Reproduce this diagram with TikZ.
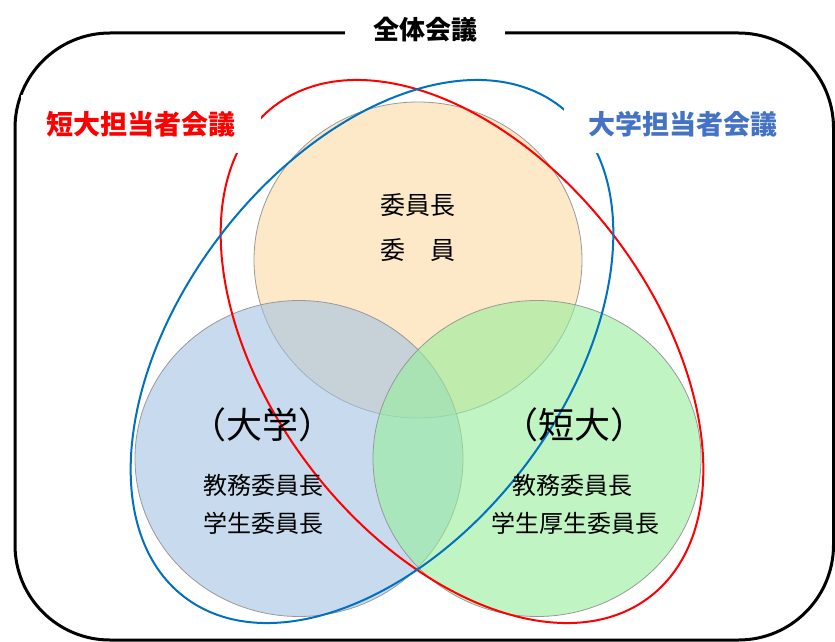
\documentclass[tikz,border=0pt]{standalone}
\usepackage{fontspec}
\newfontfamily\jp{Noto Sans CJK JP}
\usetikzlibrary{shapes.geometric}
\definecolor{ublue}{RGB}{0,112,192}
\definecolor{lblue}{RGB}{68,114,196}
\definecolor{peach}{RGB}{252,218,163}
\definecolor{skyblue}{RGB}{163,193,227}
\definecolor{mint}{RGB}{150,238,155}
\newcommand{\fs}[1]{\fontsize{#1}{#1}\selectfont}
\begin{document}
\begin{tikzpicture}[x=1pt,y=-1pt,font=\jp,
	venn/.style={ellipse,draw=gray!80,line width=0.8pt,fill opacity=0.6,minimum width=328,minimum height=316,inner sep=0pt},
	group/.style={ellipse,line width=2pt,minimum width=618,minimum height=382,inner sep=0pt},
	tag/.style={fill=white,inner sep=0pt,minimum height=58,font=\jp\bfseries\fs{27}},
	body/.style={font=\jp\fs{24}}]
	\useasboundingbox (0,0) rectangle (835,642);
	\draw[line width=3pt,rounded corners=95] (15,33) rectangle (833.5,640);
	\node[venn,fill=peach] (top) at (418,260) {};
	\node[venn,fill=skyblue] (left) at (299,458.5) {};
	\node[venn,fill=mint] (right) at (537,458.5) {};
	\node[group,draw=red,rotate=-52.6] (tandai) at (462,351.5) {};
	\node[group,draw=ublue,rotate=52.6] (daigaku) at (372,351.5) {};
	\node[tag,text=red,minimum width=240] (tlabel) at (141,124) {短大担当者会議};
	\node[tag,text=lblue,minimum width=238] (dlabel) at (683,124) {大学担当者会議};
	\node[fill=white,inner sep=0pt,minimum width=160,minimum height=56,font=\jp\bfseries\fs{26}] (all) at (425,30) {全体会議};
	\node[body,font=\jp\fs{25}] (chair) at (418,205) {委員長};
	\node[body,font=\jp\fs{25}] (member) at (418,250) {委　員};
	\node[font=\jp\fs{36}] (dname) at (262,425) {（大学）};
	\node[body] (d1) at (263,485) {教務委員長};
	\node[body] (d2) at (263,523) {学生委員長};
	\node[font=\jp\fs{36}] (tname) at (574,425) {（短大）};
	\node[body] (t1) at (572,485) {教務委員長};
	\node[body] (t2) at (575,523) {学生厚生委員長};
\end{tikzpicture}
\end{document}
